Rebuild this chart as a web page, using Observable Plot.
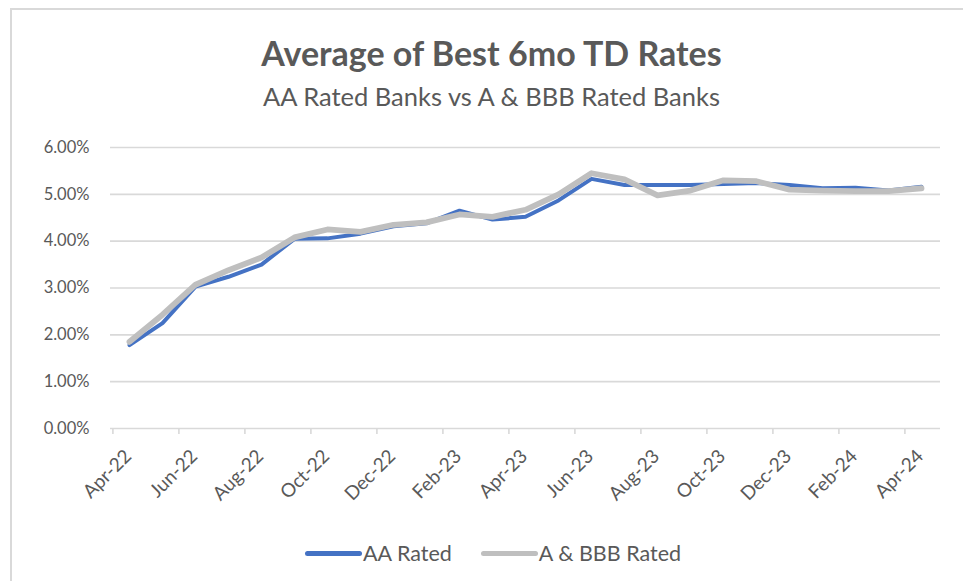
<!DOCTYPE html>
<html>
<head>
<meta charset="utf-8">
<script src="https://cdn.jsdelivr.net/npm/d3@7"></script>
<script src="https://cdn.jsdelivr.net/npm/@observablehq/plot@0.6"></script>
<style>
  html, body { margin: 0; padding: 0; background: #fff; width: 963px; height: 581px; overflow: hidden; }
  #frame { position: absolute; left: 10px; top: 8px; width: 1000px; height: 620px; border: 2px solid #d9d9d9; box-sizing: border-box; }
  #title { position: absolute; left: 0; width: 983px; top: 32px; text-align: center; font-family: Lato, sans-serif; font-weight: bold; font-size: 34px; color: #595959; }
  #subtitle { position: absolute; left: 0; width: 983px; top: 81px; text-align: center; font-family: Lato, sans-serif; font-size: 25.5px; color: #595959; }
  #chart { position: absolute; left: 0; top: 130px; }
  #legend { position: absolute; left: 305px; top: 540px; font-family: Lato, sans-serif; font-size: 21.5px; color: #595959; display: flex; align-items: center; white-space: nowrap; }
  .sw { display: inline-block; width: 57px; height: 5px; border-radius: 3px; margin-right: 1px; }
  .item { display: flex; align-items: center; margin-right: 29px; }
</style>
</head>
<body>
<div id="frame"></div>
<div id="title">Average of Best 6mo TD Rates</div>
<div id="subtitle">AA Rated Banks vs A &amp; BBB Rated Banks</div>
<div id="chart"></div>
<div id="legend"></div>
<script>
const months = ["Apr-22","May-22","Jun-22","Jul-22","Aug-22","Sep-22","Oct-22","Nov-22","Dec-22",
  "Jan-23","Feb-23","Mar-23","Apr-23","May-23","Jun-23","Jul-23","Aug-23","Sep-23","Oct-23",
  "Nov-23","Dec-23","Jan-24","Feb-24","Mar-24","Apr-24"];
const aaRated =    [1.78, 2.25, 3.03, 3.24, 3.50, 4.05, 4.06, 4.16, 4.32, 4.38, 4.65, 4.46, 4.52,
  4.87, 5.33, 5.20, 5.20, 5.20, 5.22, 5.24, 5.20, 5.13, 5.14, 5.08, 5.16];
const abbbRated =  [1.85, 2.43, 3.07, 3.38, 3.65, 4.08, 4.25, 4.20, 4.35, 4.40, 4.57, 4.52, 4.67,
  5.00, 5.45, 5.32, 4.98, 5.08, 5.30, 5.28, 5.10, 5.08, 5.07, 5.07, 5.13];
const seriesNames = ["AA Rated", "A & BBB Rated"];
const seriesColors = ["#4472c4", "#bfbfbf"];
const yTicks = [0, 1, 2, 3, 4, 5, 6];
const labelMonths = months.filter((m, i) => i % 2 === 0);

const aaData = months.map((m, i) => ({month: m, value: aaRated[i], series: seriesNames[0]}));
const abbbData = months.map((m, i) => ({month: m, value: abbbRated[i], series: seriesNames[1]}));

const W = 963, H = 380, mL = 110, mR = 23, mT = 17, mB = 82;
const step = (W - mL - mR) / months.length;
const textColor = "#595959";

const chart = Plot.plot({
  width: W, height: H,
  marginLeft: mL, marginRight: mR, marginTop: mT, marginBottom: mB,
  x: {type: "point", domain: months, padding: 0.5, axis: null, label: null},
  y: {domain: [0, 6], axis: null, label: null},
  color: {domain: seriesNames, range: seriesColors},
  style: {fontFamily: "Lato, sans-serif", color: textColor, background: "transparent", overflow: "visible"},
  marks: [
    Plot.gridY(yTicks, {stroke: "#d9d9d9", strokeOpacity: 1, strokeWidth: 1.6}),
    Plot.axisY(yTicks, {label: null, tickSize: 0, tickPadding: 21, tickFormat: d => d.toFixed(2) + "%", fontSize: 16.5, fill: textColor}),
    Plot.axisX(labelMonths, {label: null, tickSize: 6, tickFormat: () => "", dx: -step / 2, stroke: "#d9d9d9", strokeWidth: 1.6, strokeOpacity: 1}),
    Plot.text(labelMonths, {x: d => d, y: 0, dx: 3, dy: 29, rotate: -45, textAnchor: "end", lineAnchor: "bottom", fontSize: 19, fill: textColor}),
    Plot.line(aaData, {x: "month", y: "value", stroke: "series", strokeWidth: 4, strokeLinejoin: "round", strokeLinecap: "round"}),
    Plot.line(abbbData, {x: "month", y: "value", stroke: "series", strokeWidth: 5.8, strokeLinejoin: "round", strokeLinecap: "round"})
  ]
});
document.getElementById("chart").appendChild(chart);

const legend = document.getElementById("legend");
seriesNames.forEach((name, i) => {
  const item = document.createElement("div");
  item.className = "item";
  const sw = document.createElement("span");
  sw.className = "sw";
  sw.style.background = seriesColors[i];
  const label = document.createElement("span");
  label.textContent = name;
  item.appendChild(sw);
  item.appendChild(label);
  legend.appendChild(item);
});
</script>
</body>
</html>
